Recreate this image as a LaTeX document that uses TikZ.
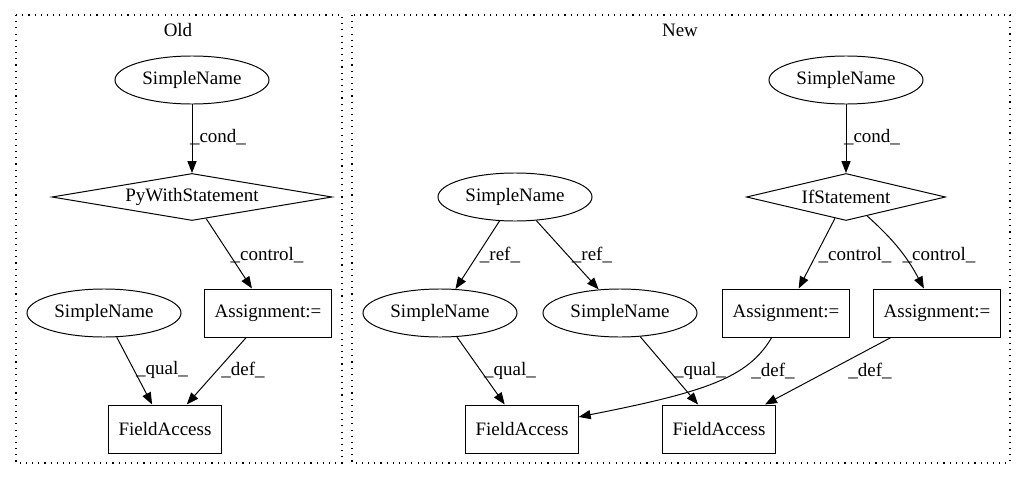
\documentclass[tikz,border=0pt]{standalone}
\usepackage{fontspec}
\setmainfont{Liberation Serif}
\usepackage{tikz}
\usetikzlibrary{arrows.meta}
\usetikzlibrary{shapes}
\tikzset{
  sname/.style={ellipse,draw,minimum width=3.85cm,minimum height=1.2cm,inner sep=0pt},
  stmt/.style={diamond,draw,aspect=6,inner sep=0pt,minimum height=1.175cm},
  abox/.style={rectangle,draw,minimum height=1.2cm,inner xsep=7pt,inner ysep=0pt},
  elabel/.style={inner sep=0pt},
  cluster/.style={draw,line width=0.8pt,dash pattern=on 0.8pt off 3.6pt},
}
\newcommand{\namenode}{\node[sname]}
\newcommand{\stmtnode}{\node[stmt]}
\newcommand{\boxnode}{\node[abox]}
\newcommand{\lnode}{\node[elabel]}

\begin{document}
\begin{tikzpicture}[x=0.025cm,y=-0.025cm,font=\fontsize{13.5}{15}\selectfont,
    >={Triangle[length=8.5pt,width=6.5pt]},line width=0.7pt]
          \useasboundingbox (0,0) rectangle (1021,480);
          % clusters
          \draw[cluster] (16,15) rectangle (342,463);
          \draw[cluster] (352,15) rectangle (1010,463);
          \node (oldtitle) at (178,30) {Old};
          \node (newtitle) at (680,30) {New};
          % old
          \namenode (osn1) at (192,80) {SimpleName}; %
          \stmtnode[minimum width=7cm] (owith) at (192,197) {PyWithStatement}; %
          \boxnode (oasg) at (268,313) {Assignment:=};
          \namenode (osn2) at (104,313) {SimpleName}; %
          \boxnode (ofa) at (165,429) {FieldAccess};
          \draw[->] (osn1) -- (owith);
          \draw[->] (owith) -- (oasg);
          \draw[->] (osn2) -- (ofa);
          \draw[->] (oasg) -- (ofa);
          \lnode (lcond) at (218,137) {\_cond\_};
          \lnode (lctl) at (267,255) {\_control\_};
          \lnode (lqual) at (162,370) {\_qual\_};
          \lnode (ldef) at (243,370) {\_def\_};
          % new
          \namenode (nsn1) at (846,80) {SimpleName}; %
          \stmtnode[minimum width=4.975cm] (nif) at (846,197) {IfStatement}; %
          \namenode (nsn2) at (515,197) {SimpleName}; %
          \namenode (nsn3) at (440,313) {SimpleName};
          \namenode (nsn4) at (620,313) {SimpleName};
          \boxnode (nasg1) at (786,313) {Assignment:=};
          \boxnode (nasg2) at (937,313) {Assignment:=};
          \boxnode (nfa1) at (522,429) {FieldAccess};
          \boxnode (nfa2) at (719,429) {FieldAccess};
          \draw[->] (nsn1) -- (nif);
          \draw[->] (nsn2) -- (nsn3);
          \draw[->] (nsn2) -- (nsn4);
          \draw[->] (nif) -- (nasg1);
          \draw[->] (nif) to[bend left=10] (nasg2);
          \draw[->] (nsn3) -- (nfa1);
          \draw[->] (nsn4) -- (nfa2);
          \draw[->] (nasg1) .. controls (748,378) and (705,392) .. (nfa1.12);
          \draw[->] (nasg2) -- (nfa2);
          \lnode (ncond) at (872,137) {\_cond\_};
          \lnode (nref1) at (500,255) {\_ref\_};
          \lnode (nref2) at (592,255) {\_ref\_};
          \lnode (nctl1) at (855,255) {\_control\_};
          \lnode (nctl2) at (939,255) {\_control\_};
          \lnode (nqual1) at (510,371) {\_qual\_};
          \lnode (nqual2) at (700,371) {\_qual\_};
          \lnode (ndef1) at (773,371) {\_def\_};
          \lnode (ndef2) at (870,371) {\_def\_};
        \end{tikzpicture}
\end{document}
